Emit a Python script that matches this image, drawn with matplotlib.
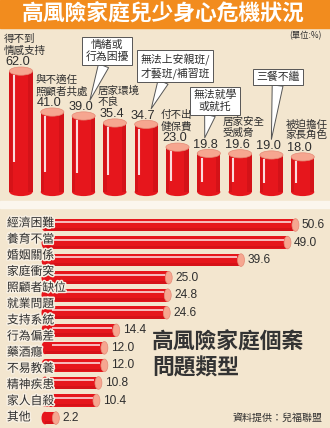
import numpy as np
import matplotlib
matplotlib.use("Agg")
import matplotlib.pyplot as plt
import matplotlib.patheffects as pe
from matplotlib.patches import Ellipse, Rectangle

plt.rcParams['font.family'] = ['Noto Sans CJK TC', 'DejaVu Sans']

# --- data -----------------------------------------------------------------
title = '高風險家庭兒少身心危機狀況'
unit_note = '(單位:%)'

risk_labels = ['得不到\n情感支持', '與不適任\n照顧者共處', '情緒或\n行為困擾', '居家環境\n不良',
               '無法上安親班/\n才藝班/補習班', '付不出\n健保費', '無法就學\n或就托',
               '居家安全\n受威脅', '三餐不繼', '被迫擔任\n家長角色']
risk_values = [62.0, 41.0, 39.0, 35.4, 34.7, 23.0, 19.8, 19.6, 19.0, 18.0]

subtitle = '高風險家庭個案\n問題類型'
case_labels = ['經濟困難', '養育不當', '婚姻關係', '家庭衝突', '照顧者缺位', '就業問題',
               '支持系統', '行為偏差', '藥酒癮', '不易教養', '精神疾患', '家人自殺', '其他']
case_values = [50.6, 49.0, 39.6, 25.0, 24.8, 24.6, 14.4, 12.0, 12.0, 10.8, 10.4, 2.2]
source = '資料提供：兒福聯盟'

# --- style ----------------------------------------------------------------
BG = '#f3e6cf'
ORANGE = '#f28c1e'
RED = '#e6161c'
DARK_RED = '#b30c12'
CAP = '#f6a690'
CAP_EDGE = '#e58a76'
TEXT = '#2e2e2e'
NUM_FONT = ['Liberation Sans', 'DejaVu Sans']

# speech bubbles: bar index -> (text x, text y, relpos along box bottom, tip dx)
bubbles = {2: (2.75, 72.3, 0.45, 0.2), 4: (4.92, 64.6, 0.35, 0.16),
           6: (6.2, 46.7, 0.4, -0.13), 8: (8.21, 59.0, 0.5, 0.0)}

H = 428.0
fig = plt.figure(figsize=(3.3, 4.28), dpi=100, facecolor=BG)
fig.add_artist(Rectangle((0, 1 - 28 / H), 1, 28 / H, transform=fig.transFigure,
                         color=ORANGE, zorder=0))
fig.add_artist(Rectangle((0, 1 - 208 / H), 1, 7 / H, transform=fig.transFigure,
                         color='#fbf6ee', zorder=0))
fig.text(0.495, 1 - 14.5 / H, title, ha='center', va='center', fontsize=15.7,
         color='white', weight='bold')
fig.text(0.976, 1 - 36 / H, unit_note, ha='right', va='center', fontsize=6, color=TEXT)

# --- top: cylinders -------------------------------------------------------
ax = fig.add_axes([0, 1 - 201 / H, 1, 173 / H])
ax.set_xlim(-0.671, 9.872)
ax.set_ylim(-4.615, 84.1)
ax.axis('off')

x = np.arange(len(risk_values))
vals = np.array(risk_values)
w = 0.74
eh = 4.2
ax.bar(x, vals, w, color=RED, zorder=2)
ax.bar(x - w * 0.43, vals, w * 0.14, color=DARK_RED, alpha=0.3, zorder=3)
ax.bar(x + w * 0.40, vals, w * 0.20, color=DARK_RED, alpha=0.35, zorder=3)
ax.vlines(x - w * 0.3, vals * 0.25, vals - 2.2, color='white', lw=1.5, alpha=0.85, zorder=4)

for xi, v, lab in zip(x, vals, risk_labels):
    ax.add_patch(Ellipse((xi, 0), w, eh, fc=RED, zorder=1))
    ax.add_patch(Ellipse((xi, v), w, eh, fc=CAP, ec=CAP_EDGE, lw=0.5, zorder=5))
    ax.text(xi - 0.1, v + 1.4, f'{v:.1f}', ha='center', va='bottom', fontsize=9.2,
            family=NUM_FONT, color=TEXT, zorder=6)
    if xi in bubbles:
        bx_, by_, rel, dx = bubbles[xi]
        ax.annotate(lab, xy=(xi + dx, v + 8.0), xytext=(bx_, by_), ha='center', va='center',
                    fontsize=7.8, linespacing=1.2, color=TEXT, zorder=7,
                    bbox=dict(boxstyle='square,pad=0.28', fc='white', ec='#555555', lw=0.7),
                    arrowprops=dict(arrowstyle='wedge,tail_width=1.0,shrink_factor=0.5',
                                    fc='white', ec='#555555', lw=0.7, relpos=(rel, 0),
                                    shrinkA=0, shrinkB=0))
    else:
        ax.text(xi - 0.55, v + 8.0, lab, ha='left', va='bottom', fontsize=7.6,
                linespacing=1.15, color=TEXT, zorder=6)

# --- bottom: horizontal bars ----------------------------------------------
bx = fig.add_axes([0, 0, 1, 220 / H])
bx.set_xlim(-9.09, 57.58)
bx.set_ylim(11.567, -0.969)
bx.axis('off')

y = np.arange(len(case_values))
cv = np.array(case_values)
h = 0.72
bx.barh(y, cv, h, color=RED, zorder=2)
bx.barh(y + h * 0.36, cv, h * 0.22, color=DARK_RED, alpha=0.3, zorder=3)
long_bars = cv > 5
bx.hlines(y[long_bars] - h * 0.22, 1.5, cv[long_bars] - 0.8, color='white', lw=1.1,
          alpha=0.9, zorder=4)
for yi, v in zip(y, cv):
    bx.add_patch(Ellipse((0, yi), 1.4, h, fc=RED, zorder=1))
    bx.add_patch(Ellipse((v, yi), 1.4, h, fc=CAP, ec=CAP_EDGE, lw=0.5, zorder=5))
    bx.text(v + 1.3, yi, f'{v:.1f}', ha='left', va='center', fontsize=8.6,
            family=NUM_FONT, color=TEXT)

# row labels sit on their own (slightly tighter) grid, as in the printed graphic
lx = fig.add_axes([0, 0, 1, 220 / H])
lx.set_ylim(12.678, -0.928)
lx.axis('off')
halo = [pe.withStroke(linewidth=2.2, foreground='#f7efe2')]
for j, lab in enumerate(case_labels):
    lx.text(0.021, j, lab, transform=lx.get_yaxis_transform(), ha='left', va='center',
            fontsize=8.5, color=TEXT, path_effects=halo)

fig.text(152 / 330, 1 - 355 / H, subtitle, ha='left', va='center', fontsize=15.7,
         linespacing=1.12, color='#333333', weight='bold')
fig.text(0.976, 1 - 418 / H, source, ha='right', va='center', fontsize=7.2, color=TEXT)

fig.savefig('out.png', dpi=100, facecolor=BG)
